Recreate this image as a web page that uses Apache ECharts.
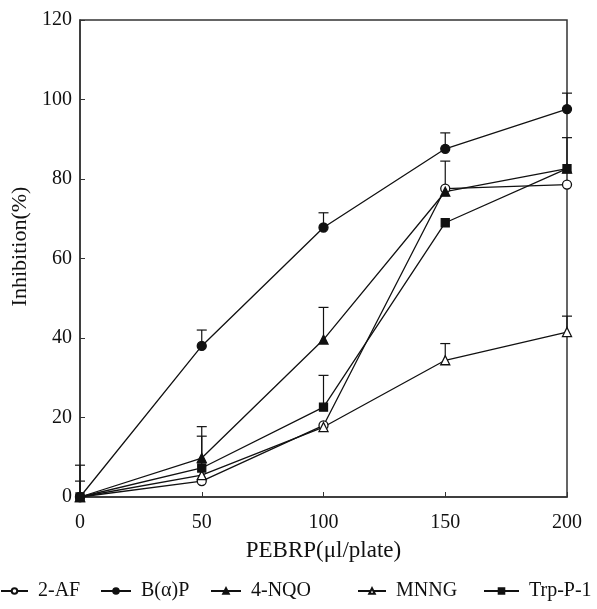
<!DOCTYPE html>
<html><head><meta charset="utf-8">
<script src="https://cdn.jsdelivr.net/npm/echarts@6/dist/echarts.min.js"></script>
<style>html,body{margin:0;padding:0;background:#fff}#c{width:597px;height:609px}</style>
</head><body><div id="c"></div>
<script>
const doses = [0, 50, 100, 150, 200];
const seriesNames = ['2-AF', 'B(α)P', '4-NQO', 'MNNG', 'Trp-P-1'];
const af2 = [0, 4, 18, 77.6, 78.6];
const bap = [0, 38, 67.8, 87.6, 97.6];
const nqo = [0, 9.8, 39.6, 76.8, 82.6];
const mnng = [0, 5.5, 17.6, 34.4, 41.5];
const trp = [0, 7.3, 22.6, 69, 82.6];
// upper error bar ends (null = none visible)
const af2Err = [null, null, null, 84.5, null];
const bapErr = [null, 42, 71.5, 91.6, 101.6];
const nqoErr = [8, 17.7, 47.7, null, 90.4];
const mnngErr = [null, null, null, 38.6, 45.5];
const trpErr = [4, 15.3, 30.6, null, null];
const xTicks = [0, 50, 100, 150, 200];
const yTicks = [0, 20, 40, 60, 80, 100, 120];

const values = [af2, bap, nqo, mnng, trp];
const errs = [af2Err, bapErr, nqoErr, mnngErr, trpErr];
const symbols = ['circle', 'circle', 'triangle', 'triangle', 'rect'];
const filled = [false, true, true, false, true];
const sizes = [9, 9, 9, 9, 8];
const FONT = '"Liberation Serif", "DejaVu Serif", serif';
const INK = '#111';

const series = [];
values.forEach((v, i) => {
  series.push({
    name: seriesNames[i], type: 'line',
    data: doses.map((d, k) => [d, v[k]]),
    symbol: symbols[i], symbolSize: sizes[i],
    showAllSymbol: true,
    lineStyle: { color: INK, width: 1.3 },
    itemStyle: { color: filled[i] ? INK : '#fff', borderColor: INK, borderWidth: 1.3 },
    z: 3
  });
});
const errData = [];
values.forEach((v, i) => {
  errs[i].forEach((e, k) => { if (e !== null) errData.push([doses[k], v[k], e]); });
});
series.push({
  type: 'custom', name: 'err', silent: true, z: 2,
  data: errData,
  renderItem: function (params, api) {
    const x = api.value(0);
    const lo = api.coord([x, api.value(1)]);
    const hi = api.coord([x, api.value(2)]);
    const w = 5;
    return { type: 'group', children: [
      { type: 'line', shape: { x1: lo[0], y1: lo[1], x2: hi[0], y2: hi[1] }, style: { stroke: INK, lineWidth: 1.2 } },
      { type: 'line', shape: { x1: hi[0] - w, y1: hi[1], x2: hi[0] + w, y2: hi[1] }, style: { stroke: INK, lineWidth: 1.2 } }
    ]};
  }
});

const legendLeft = [0, 100, 210, 357, 483];
const legendIconW = [27, 30, 30, 28, 35];
const legends = seriesNames.map((n, i) => ({
  data: [n], left: legendLeft[i], top: 581, padding: 0,
  itemWidth: legendIconW[i], itemHeight: 7,
  formatter: ' {name}',
  textStyle: { fontFamily: FONT, fontSize: 20, color: INK }
}));

const chart = echarts.init(document.getElementById('c'), null, { renderer: 'canvas' });
chart.setOption({
  backgroundColor: '#fff',
  animation: false,
  textStyle: { fontFamily: FONT },
  grid: { left: 80, right: 30, top: 20, bottom: 112, show: true, borderColor: '#333', borderWidth: 1.5, backgroundColor: 'transparent' },
  legend: legends,
  xAxis: {
    type: 'value', min: xTicks[0], max: xTicks[xTicks.length - 1], interval: 50,
    name: 'PEBRP(μl/plate)', nameLocation: 'middle', nameGap: 42,
    nameTextStyle: { fontFamily: FONT, fontSize: 23, color: INK },
    axisLine: { lineStyle: { color: '#333', width: 1.5 } },
    axisTick: { inside: true, length: 5, lineStyle: { color: '#333' } },
    axisLabel: { fontFamily: FONT, fontSize: 20, color: INK, margin: 16 },
    splitLine: { show: false }
  },
  yAxis: {
    type: 'value', min: yTicks[0], max: yTicks[yTicks.length - 1], interval: 20,
    name: 'Inhibition(%)', nameLocation: 'middle', nameGap: 46,
    nameTextStyle: { fontFamily: FONT, fontSize: 22, color: INK, padding: [0, 0, 0, 24] },
    axisLine: { lineStyle: { color: '#333', width: 1.5 } },
    axisTick: { inside: true, length: 5, lineStyle: { color: '#333' } },
    axisLabel: { fontFamily: FONT, fontSize: 20, color: INK, margin: 8 },
    splitLine: { show: false }
  },
  series: series
});
</script></body></html>
